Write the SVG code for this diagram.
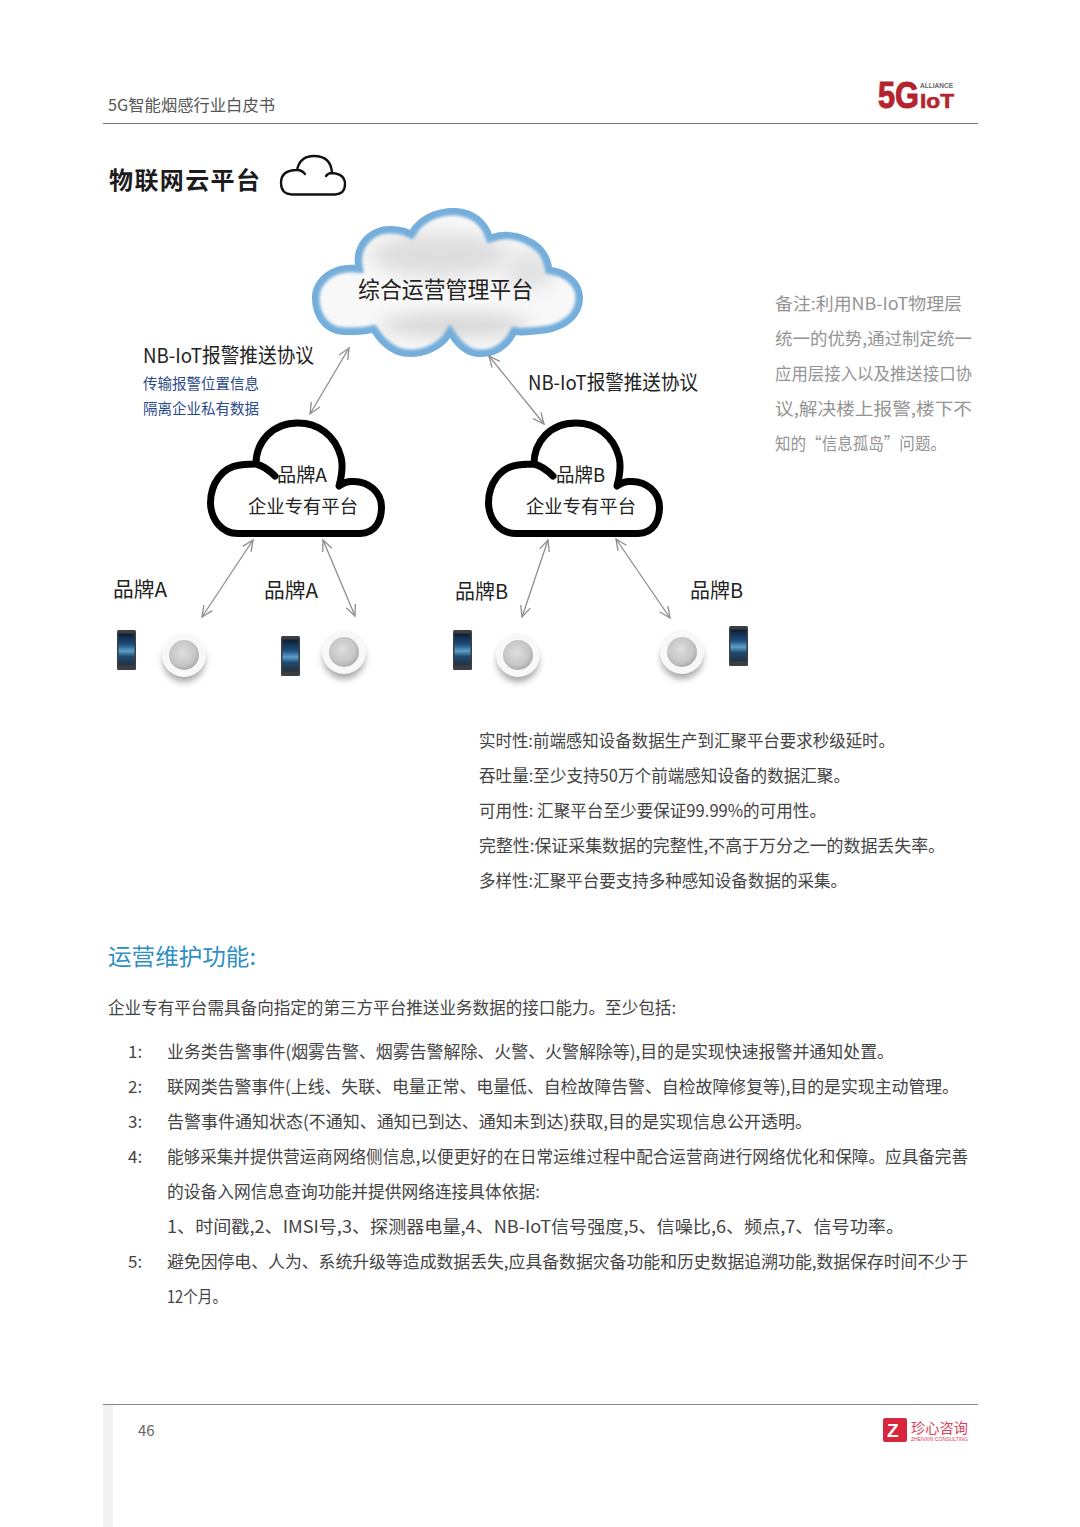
<svg xmlns="http://www.w3.org/2000/svg" width="1080" height="1527" viewBox="0 0 1080 1527">
<style>
text{font-family:"Noto Sans CJK SC","Noto Sans",sans-serif;font-weight:400;fill:#333}
.t{font-family:"Noto Sans CJK TC","Noto Sans",sans-serif}
.b{font-size:17px;fill:#444}
.l{font-size:20px;fill:#222}
.n{font-size:17px;fill:#949494}
.bl{font-size:15px;fill:#2b4a8a}
.c{fill:none;stroke:#8e8e8e;stroke-width:1.3;marker-start:url(#h);marker-end:url(#h)}
.k{fill:#fff;stroke:#000;stroke-width:7;stroke-linecap:round;stroke-linejoin:round}
.ar{font-family:"Liberation Sans",sans-serif;font-weight:700}
</style>
<defs>
<marker id="h" markerWidth="14" markerHeight="14" refX="12" refY="6" orient="auto-start-reverse" markerUnits="userSpaceOnUse"><path d="M1 1L12 6L1 11" fill="none" stroke="#8e8e8e" stroke-width="1.3"/></marker>
<radialGradient id="s" cx=".45" cy=".42" r=".6"><stop offset="0" stop-color="#dedede"/><stop offset=".7" stop-color="#c6c6c6"/><stop offset="1" stop-color="#a9a9a9"/></radialGradient>
<linearGradient id="p" x1="0" y1="0" x2="0" y2="1"><stop offset="0" stop-color="#0e1c30"/><stop offset=".35" stop-color="#1d4f7e"/><stop offset=".55" stop-color="#5f9fc8"/><stop offset=".72" stop-color="#1e4a70"/><stop offset="1" stop-color="#26303a"/></linearGradient>
<filter id="bl1" x="-20%" y="-20%" width="140%" height="140%"><feGaussianBlur stdDeviation="1.400"/></filter>
<filter id="bl8" x="-40%" y="-40%" width="180%" height="180%"><feGaussianBlur stdDeviation="9"/></filter>
<filter id="bl3" x="-40%" y="-40%" width="180%" height="180%"><feGaussianBlur stdDeviation="3"/></filter>
<path id="cl" d="M347 335C325 336 312 318 312 298C312 278 332 263 355 265C352 245 368 226 390 226C398 226 404 227 410 230C420 214 438 208 453 208C472 208 486 218 492 234C505 230 518 232 528 237C542 243 550 254 552 267C570 270 583 282 583 298C583 318 565 332 540 334C530 335 522 336 516 335C508 350 495 357 480 357C468 357 458 350 450 338C442 350 425 357 410 357C392 357 380 345 372 333C364 335 355 335 347 335Z"/>
<clipPath id="clc"><use href="#cl"/></clipPath>
<path id="kc" class="k" d="M238 533.500H360C376 533 381.500 520 381.500 507C381.500 492 368 481 353 481.500C348 481 343 483 339 486C342 475 343 465 341 457C335 435 318 423 298 423C272 423 256 442 256 464C250 464 245 464.500 240 465C222 467 210.500 484 210.500 503C211 520 222 533.500 238 533.500Z M256 464C264 466 270 471 275 476"/>
<g id="phone"><rect x="0" y="0" width="19" height="40" rx="1.500" fill="#3a3f44"/><rect x="1.500" y="3.500" width="16" height="32" fill="url(#p)"/></g>
<g id="smoke"><ellipse cx="0" cy="7" rx="21" ry="21" fill="#aaa" filter="url(#bl3)"/><circle cx="0" cy="1" r="22" fill="#f8f8f8"/><circle cx="0" cy="1" r="15" fill="url(#s)"/></g>
</defs>
<rect width="1080" height="1527" fill="#fff"/>
<rect x="103" y="1405" width="10" height="122" fill="#f3f3f3"/>
<g id="header">
<text x="108" y="110.500" style="font-size:16px;fill:#555" textLength="167" lengthAdjust="spacingAndGlyphs">5G智能烟感行业白皮书</text>
<path d="M103 123.500H978" stroke="#777" stroke-width="1"/>
<text x="878" y="108" class="ar" style="font-size:36px;fill:#b5242e;stroke:#b5242e;stroke-width:1" textLength="41" lengthAdjust="spacingAndGlyphs">5G</text>
<text x="920" y="87.500" class="ar" style="font-size:6.500px;fill:#666" textLength="33" lengthAdjust="spacingAndGlyphs">ALLIANCE</text>
<text x="920" y="108" class="ar" style="font-size:21px;fill:#b5242e;stroke:#b5242e;stroke-width:.6" textLength="34" lengthAdjust="spacingAndGlyphs">IoT</text>
</g>
<g id="title">
<text x="109" y="189" style="font-size:24px;font-weight:700;fill:#1c1c1c" textLength="151">物联网云平台</text>
<path d="M292 194.500H335Q345 194 345 184Q345 174 332 173Q331 156 314 156Q300 156 297 170Q281 170 281 183Q281 194 292 194.500Z M297 170Q302 170 305 174 M332 173Q328 173 326 176" fill="none" stroke="#111" stroke-width="2.300" stroke-linecap="round"/>
</g>
<g id="cloud-main">
<use href="#cl" fill="#f8f8f8"/>
<g clip-path="url(#clc)">
<ellipse cx="440" cy="255" rx="70" ry="22" fill="#dedede" filter="url(#bl8)"/>
<ellipse cx="455" cy="325" rx="75" ry="12" fill="#d6d6d6" filter="url(#bl8)"/>
<ellipse cx="530" cy="270" rx="25" ry="20" fill="#e2e2e2" filter="url(#bl8)"/>
<use href="#cl" fill="none" stroke="#74aedb" stroke-width="15" filter="url(#bl1)"/>
</g>
<text x="358" y="298" style="font-size:23px;fill:#222" textLength="175" lengthAdjust="spacingAndGlyphs">综合运营管理平台</text>
</g>
<g id="connectors">
<path class="c" d="M349 348L310 414"/>
<path class="c" d="M489 356L544 424"/>
<path class="c" d="M253 540L202 617"/>
<path class="c" d="M323 540L355 616"/>
<path class="c" d="M548 540L522 617"/>
<path class="c" d="M616 539L670 618"/>
</g>
<g id="cloud-a">
<use href="#kc"/>
<text x="277" y="482" style="font-size:19px;fill:#222" textLength="50" lengthAdjust="spacingAndGlyphs">品牌A</text>
<text x="248" y="513" style="font-size:18.500px;fill:#222" textLength="110" lengthAdjust="spacingAndGlyphs">企业专有平台</text>
</g>
<g id="cloud-b">
<use href="#kc" x="278"/>
<text x="556" y="482" style="font-size:19px;fill:#222" textLength="49" lengthAdjust="spacingAndGlyphs">品牌B</text>
<text x="526" y="513" style="font-size:18.500px;fill:#222" textLength="110" lengthAdjust="spacingAndGlyphs">企业专有平台</text>
</g>
<g id="labels">
<text x="143" y="363" class="l" textLength="171" lengthAdjust="spacingAndGlyphs">NB-IoT报警推送协议</text>
<text x="528" y="390" class="l" textLength="170" lengthAdjust="spacingAndGlyphs">NB-IoT报警推送协议</text>
<text x="143" y="389" class="bl" textLength="116" lengthAdjust="spacingAndGlyphs">传输报警位置信息</text>
<text x="143" y="414" class="bl" textLength="116" lengthAdjust="spacingAndGlyphs">隔离企业私有数据</text>
<text x="113" y="597" class="l" textLength="54" lengthAdjust="spacingAndGlyphs">品牌A</text>
<text x="264" y="598" class="l" textLength="54" lengthAdjust="spacingAndGlyphs">品牌A</text>
<text x="455" y="599" class="l" textLength="53" lengthAdjust="spacingAndGlyphs">品牌B</text>
<text x="690" y="598" class="l" textLength="53" lengthAdjust="spacingAndGlyphs">品牌B</text>
</g>
<g id="devices">
<use href="#phone" x="117" y="630"/><use href="#smoke" x="184" y="654"/>
<use href="#phone" x="281" y="636"/><use href="#smoke" x="344" y="651"/>
<use href="#phone" x="453" y="630"/><use href="#smoke" x="518" y="654"/>
<use href="#phone" x="729" y="626"/><use href="#smoke" x="682" y="651"/>
</g>
<g id="note">
<text x="775" y="310" class="n" textLength="187" lengthAdjust="spacingAndGlyphs">备注<tspan class="t">:</tspan>利用NB-IoT物理层</text>
<text x="775" y="345" class="n" textLength="197" lengthAdjust="spacingAndGlyphs">统一的优势<tspan class="t">,</tspan>通过制定统一</text>
<text x="775" y="380" class="n" textLength="197" lengthAdjust="spacingAndGlyphs">应用层接入以及推送接口协</text>
<text x="775" y="415" class="n" textLength="197" lengthAdjust="spacingAndGlyphs">议<tspan class="t">,</tspan>解决楼上报警<tspan class="t">,</tspan>楼下不</text>
<text x="775" y="450" class="n" textLength="171" lengthAdjust="spacingAndGlyphs">知的“信息孤岛”问题。</text>
</g>
<g id="reqs">
<text x="479" y="747" class="b" textLength="416" lengthAdjust="spacingAndGlyphs">实时性<tspan class="t">:</tspan>前端感知设备数据生产到汇聚平台要求秒级延时。</text>
<text x="479" y="782" class="b" textLength="371" lengthAdjust="spacingAndGlyphs">吞吐量<tspan class="t">:</tspan>至少支持50万个前端感知设备的数据汇聚。</text>
<text x="479" y="817" class="b" textLength="347" lengthAdjust="spacingAndGlyphs">可用性<tspan class="t">:</tspan> 汇聚平台至少要保证99.99%的可用性。</text>
<text x="479" y="852" class="b" textLength="466" lengthAdjust="spacingAndGlyphs">完整性<tspan class="t">:</tspan>保证采集数据的完整性<tspan class="t">,</tspan>不高于万分之一的数据丢失率。</text>
<text x="479" y="887" class="b" textLength="368" lengthAdjust="spacingAndGlyphs">多样性<tspan class="t">:</tspan>汇聚平台要支持多种感知设备数据的采集。</text>
</g>
<g id="body">
<text x="108" y="965" style="font-size:23px;fill:#2e8fc4" textLength="148" lengthAdjust="spacingAndGlyphs">运营维护功能<tspan class="t">:</tspan></text>
<text x="108" y="1014" class="b" textLength="568" lengthAdjust="spacingAndGlyphs">企业专有平台需具备向指定的第三方平台推送业务数据的接口能力。至少包括<tspan class="t">:</tspan></text>
<text x="128" y="1058" class="b">1<tspan class="t">:</tspan></text>
<text x="167" y="1058" class="b" textLength="727" lengthAdjust="spacingAndGlyphs">业务类告警事件(烟雾告警、烟雾告警解除、火警、火警解除等)<tspan class="t">,</tspan>目的是实现快速报警并通知处置。</text>
<text x="128" y="1093" class="b">2<tspan class="t">:</tspan></text>
<text x="167" y="1093" class="b" textLength="792" lengthAdjust="spacingAndGlyphs">联网类告警事件(上线、失联、电量正常、电量低、自检故障告警、自检故障修复等)<tspan class="t">,</tspan>目的是实现主动管理。</text>
<text x="128" y="1128" class="b">3<tspan class="t">:</tspan></text>
<text x="167" y="1128" class="b" textLength="645" lengthAdjust="spacingAndGlyphs">告警事件通知状态(不通知、通知已到达、通知未到达)获取<tspan class="t">,</tspan>目的是实现信息公开透明。</text>
<text x="128" y="1163" class="b">4<tspan class="t">:</tspan></text>
<text x="167" y="1163" class="b" textLength="801" lengthAdjust="spacingAndGlyphs">能够采集并提供营运商网络侧信息<tspan class="t">,</tspan>以便更好的在日常运维过程中配合运营商进行网络优化和保障。应具备完善</text>
<text x="167" y="1198" class="b" textLength="373" lengthAdjust="spacingAndGlyphs">的设备入网信息查询功能并提供网络连接具体依据<tspan class="t">:</tspan></text>
<text x="167" y="1233" class="b" textLength="737" lengthAdjust="spacingAndGlyphs">1、时间戳<tspan class="t">,</tspan>2、IMSI号<tspan class="t">,</tspan>3、探测器电量<tspan class="t">,</tspan>4、NB-IoT信号强度<tspan class="t">,</tspan>5、信噪比<tspan class="t">,</tspan>6、频点<tspan class="t">,</tspan>7、信号功率。</text>
<text x="128" y="1268" class="b">5<tspan class="t">:</tspan></text>
<text x="167" y="1268" class="b" textLength="801" lengthAdjust="spacingAndGlyphs">避免因停电、人为、系统升级等造成数据丢失<tspan class="t">,</tspan>应具备数据灾备功能和历史数据追溯功能<tspan class="t">,</tspan>数据保存时间不少于</text>
<text x="167" y="1303" class="b" textLength="60" lengthAdjust="spacingAndGlyphs">12个月。</text>
</g>
<g id="footer">
<path d="M103 1404.500H978" stroke="#888" stroke-width="1"/>
<text x="138" y="1436" style="font-size:15px;fill:#666">46</text>
<rect x="883" y="1418" width="24" height="24" rx="2" fill="#d7263d"/>
<text x="887" y="1437" class="ar" style="font-size:19px;fill:#fff">Z</text>
<text x="911" y="1433" style="font-size:14px;fill:#d9405a" textLength="57" lengthAdjust="spacingAndGlyphs">珍心咨询</text>
<text x="911" y="1441" style="font-size:5px;fill:#d9405a;font-family:'Liberation Sans',sans-serif" textLength="57" lengthAdjust="spacingAndGlyphs">ZHENXIN CONSULTING</text>
</g>
</svg>
